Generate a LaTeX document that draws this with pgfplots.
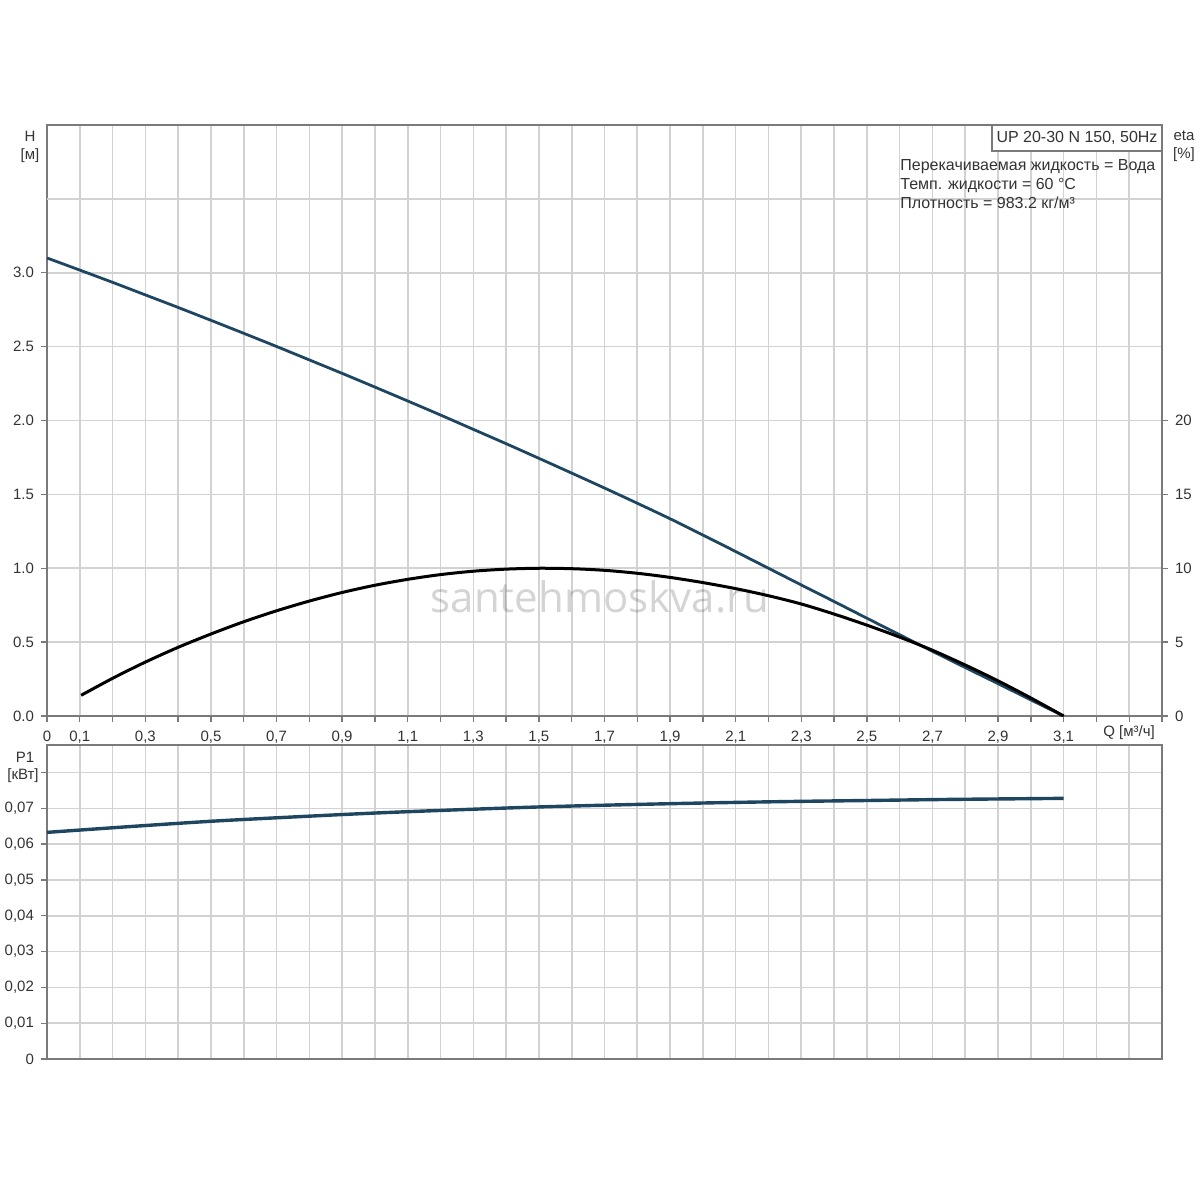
\documentclass[border=0pt]{standalone}
\usepackage{pgfplots}
\pgfplotsset{compat=1.18}
\usepackage{fontspec}
\setmainfont{Liberation Sans}
\newfontfamily\wmfont{Open Sans}
\definecolor{hcol}{HTML}{1F4660}
\definecolor{gridc}{HTML}{D2D2D2}
\definecolor{framec}{HTML}{7A7A7A}
\definecolor{txt}{HTML}{333333}
\begin{document}
\begin{tikzpicture}
\path[use as bounding box] (0pt,0pt) rectangle (600pt,-600pt);
\pgfplotsset{
  base/.style={
    scale only axis, anchor=north west, width=557.5pt,
    xmin=0, xmax=3.4,
    axis line style={framec, line width=0.9pt},
    grid style={gridc, line width=0.8pt},
    tick style={framec, line width=0.7pt},
    tick align=outside,
    major tick length=3pt,
    tick label style={font=\fontsize{7.5}{9}\selectfont, text=txt},
    /pgf/number format/assume math mode=true,
    scaled x ticks=false, scaled y ticks=false,
    xtick={0,0.1,0.2,0.3,0.4,0.5,0.6,0.7,0.8,0.9,1.0,1.1,1.2,1.3,1.4,1.5,1.6,1.7,1.8,1.9,2.0,2.1,2.2,2.3,2.4,2.5,2.6,2.7,2.8,2.9,3.0,3.1,3.2,3.3,3.4},
    xmajorgrids, ymajorgrids,
  }
}
% top axis (H)
\begin{axis}[base, at={(23.5pt,-62.5pt)}, height=295.5pt,
  ymin=0, ymax=4,
  xtick pos=bottom, ytick pos=left,
  xticklabels={0,{0,1},,{0,3},,{0,5},,{0,7},,{0,9},,{1,1},,{1,3},,{1,5},,{1,7},,{1,9},,{2,1},,{2,3},,{2,5},,{2,7},,{2,9},,{3,1},,,,},
  ytick={0,0.5,1,1.5,2,2.5,3},
  yticklabels={0.0,0.5,1.0,1.5,2.0,2.5,3.0},
  extra y ticks={3.5}, extra y tick labels={},
  extra y tick style={major tick length=0pt},
  xticklabel style={yshift=-1pt},
]
\addplot[hcol, line width=1.4pt, smooth] coordinates {
(0,3.100)(0.1,3.018)(0.2,2.935)(0.3,2.850)(0.4,2.765)(0.5,2.678)(0.6,2.590)(0.7,2.501)(0.8,2.410)(0.9,2.319)(1.0,2.226)(1.1,2.132)(1.2,2.037)(1.3,1.940)(1.4,1.843)(1.5,1.744)(1.6,1.644)(1.7,1.543)(1.8,1.440)(1.9,1.335)(2.0,1.225)(2.1,1.113)(2.2,1.000)(2.3,0.887)(2.4,0.775)(2.5,0.662)(2.6,0.550)(2.7,0.438)(2.8,0.328)(2.9,0.219)(3.0,0.109)(3.1,0)
};
\end{axis}
% eta axis (right)
\begin{axis}[base, at={(23.5pt,-62.5pt)}, height=295.5pt,
  ymin=0, ymax=40,
  xmajorgrids=false, ymajorgrids=false,
  axis x line=none, axis y line*=right,
  ytick={0,5,10,15,20},
  yticklabels={0,5,10,15,20},
]
\addplot[black, line width=1.5pt, smooth] coordinates {
(0.104,1.40)(0.2,2.55)(0.3,3.65)(0.4,4.65)(0.5,5.55)(0.6,6.38)(0.7,7.12)(0.8,7.78)(0.9,8.36)(1.0,8.85)(1.1,9.25)(1.2,9.57)(1.3,9.80)(1.4,9.94)(1.5,10.0)(1.6,9.97)(1.7,9.86)(1.8,9.66)(1.9,9.38)(2.0,9.03)(2.1,8.62)(2.2,8.14)(2.3,7.58)(2.4,6.90)(2.5,6.15)(2.6,5.34)(2.7,4.45)(2.8,3.45)(2.9,2.38)(3.0,1.22)(3.1,0)
};
\end{axis}
% bottom axis (P1)
\begin{axis}[base, at={(23.5pt,-372.5pt)}, height=157pt,
  ymin=0, ymax=0.0877,
  xtick pos=bottom, ytick pos=left,
  xticklabels={},
  x tick style={draw=none},
  ytick={0,0.01,0.02,0.03,0.04,0.05,0.06,0.07,0.08},
  yticklabels={0,{0,01},{0,02},{0,03},{0,04},{0,05},{0,06},{0,07},},
]
\addplot[hcol, line width=1.7pt, smooth] coordinates {
(0,0.0633)(0.25,0.0649)(0.5,0.0664)(0.75,0.0676)(1.0,0.0687)(1.25,0.0696)(1.5,0.0704)(1.75,0.0710)(2.0,0.0715)(2.25,0.0719)(2.5,0.0722)(2.75,0.0725)(3.1,0.0728)
};
\end{axis}
% texts
\begin{scope}[font=\fontsize{7.5}{9}\selectfont, text=txt]
\node at (15pt,-68pt) {H};
\node at (15pt,-78pt) {[м]};
\node at (592pt,-68pt) {eta};
\node at (592pt,-77.5pt) {[\%]};
\node at (12.5pt,-378.5pt) {P1};
\node at (11.5pt,-388pt) {[кВт]};
\node at (564.5pt,-366.5pt) {Q [м³/ч]};
\end{scope}
\draw[framec, line width=0.8pt, fill=white] (496pt,-62.5pt) rectangle (581pt,-75.5pt);
\node[font=\fontsize{8}{9.5}\selectfont, text=txt] at (538.5pt,-69pt) {UP 20-30 N 150, 50Hz};
\begin{scope}[font=\fontsize{8}{9.5}\selectfont, text=txt]
\node[anchor=west, inner sep=0pt] at (450pt,-83.5pt) {Перекачиваемая жидкость = Вода};
\node[anchor=west, inner sep=0pt] at (450pt,-93pt) {Темп. жидкости = 60 °C};
\node[anchor=west, inner sep=0pt] at (450pt,-101.5pt) {Плотность = 983.2 кг/м³};
\end{scope}
\node[font=\wmfont\fontsize{21}{24}\selectfont, text=black, opacity=0.17] at (300pt,-298.5pt) {santehmoskva.ru};
\end{tikzpicture}
\end{document}
